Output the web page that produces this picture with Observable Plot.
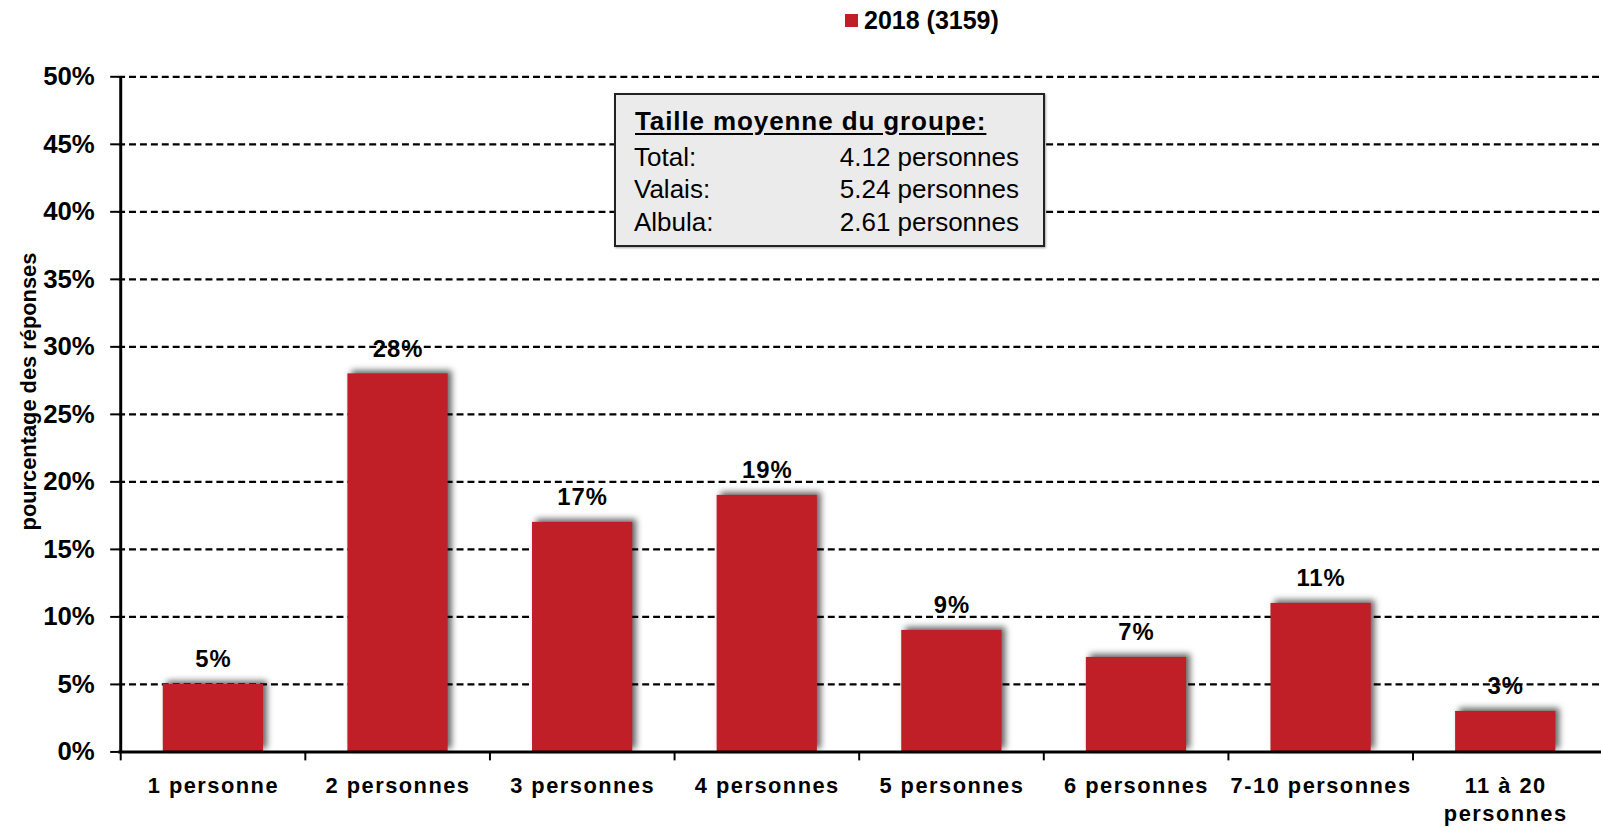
<!DOCTYPE html>
<html>
<head>
<meta charset="utf-8">
<script src="https://cdn.jsdelivr.net/npm/d3@7"></script>
<script src="https://cdn.jsdelivr.net/npm/@observablehq/plot@0.6"></script>
<style>
  html, body { margin: 0; padding: 0; background: #fff; overflow: hidden; }
  body { font-family: "Liberation Sans", Arial, sans-serif; color: #000; }
  #wrap { position: relative; width: 1601px; height: 827px; overflow: hidden; }
  #legend { position: relative; height: 50px; }
  #legend .sw { position: absolute; left: 845px; top: 14px; width: 13px; height: 13px; }
  #legend .lt { position: absolute; left: 864px; top: 8px; font-weight: bold; font-size: 25px; line-height: 25px; white-space: nowrap; }
  #box { position: absolute; left: 614px; top: 93px; width: 431px; height: 154px; box-sizing: border-box;
         background: #ebebeb; border: 2px solid #222; box-shadow: 1px 1px 2px rgba(0,0,0,0.35); }
  #box div { position: absolute; font-size: 26px; line-height: 26px; white-space: nowrap; }
  #box .title { left: 19px; top: 12.5px; font-weight: bold; letter-spacing: 0.9px; text-decoration: underline; text-decoration-thickness: 2px; text-underline-offset: 3px; }
  #box .lab { left: 18px; }
  #box .val { right: 24px; text-align: right; }
</style>
</head>
<body>
<div id="wrap">
  <div id="legend"><span class="sw"></span><span class="lt"></span></div>
  <div id="chart"></div>
  <div id="box"></div>
</div>
<script>
// ---- data ----
const categories = ["1 personne", "2 personnes", "3 personnes", "4 personnes", "5 personnes", "6 personnes", "7-10 personnes", "11 à 20 personnes"];
const tickLabels = ["1 personne", "2 personnes", "3 personnes", "4 personnes", "5 personnes", "6 personnes", "7-10 personnes", "11 à 20\npersonnes"];
const values = [5, 28, 17, 19, 9, 7, 11, 3];
const yTicks = [0, 5, 10, 15, 20, 25, 30, 35, 40, 45, 50];
const seriesName = "2018 (3159)";
const yLabel = "pourcentage des réponses";
const boxTitle = "Taille moyenne du groupe:";
const boxLabels = ["Total:", "Valais:", "Albula:"];
const boxValues = ["4.12 personnes", "5.24 personnes", "2.61 personnes"];

const barColor = "#c01f28";

// ---- legend ----
document.querySelector("#legend .sw").style.background = barColor;
document.querySelector("#legend .lt").textContent = seriesName;

// ---- info box ----
const box = document.getElementById("box");
const t = document.createElement("div");
t.className = "title"; t.textContent = boxTitle; box.appendChild(t);
const rowTops = [48.7, 81.2, 113.7];
boxLabels.forEach((l, i) => {
  const a = document.createElement("div");
  a.className = "lab"; a.style.top = rowTops[i] + "px"; a.textContent = l; box.appendChild(a);
  const b = document.createElement("div");
  b.className = "val"; b.style.top = rowTops[i] + "px"; b.textContent = boxValues[i]; box.appendChild(b);
});

// ---- chart ----
const table = categories.map((c, i) => ({cat: c, value: values[i]}));
const W = 1613, ML = 119, MR = 0;
const step = (W - ML - MR) / categories.length;

const plot = Plot.plot({
  width: W,
  height: 777,
  marginLeft: ML,
  marginRight: MR,
  marginTop: 26.5,
  marginBottom: 70.3,
  style: {fontFamily: '"Liberation Sans", Arial, sans-serif', background: "transparent", color: "#000", overflow: "visible"},
  x: {domain: categories, paddingInner: 0.455, paddingOuter: 0.2275, label: null},
  y: {domain: [0, 50], label: null},
  marks: [
    Plot.gridY(yTicks.filter(d => d > 0), {stroke: "#000", strokeOpacity: 1, strokeWidth: 2.3, strokeDasharray: "7,4"}),
    Plot.barY(table, {x: "cat", y: "value", fill: barColor}),
    Plot.text(table, {x: "cat", y: "value", text: d => d.value + "%", dy: -25, fontSize: 24, fontWeight: "bold", fill: "#000"}),
    Plot.axisY({ticks: yTicks, tickFormat: d => d + "%", tickSize: 8, tickPadding: 16, fontSize: 26, fontWeight: "bold", strokeWidth: 2, label: null}),
    Plot.axisX({tickSize: 0, tickPadding: 21, tickFormat: d => tickLabels[categories.indexOf(d)], fontSize: 22, fontWeight: "bold", lineHeight: 1.28, label: null}),
    Plot.axisX({tickSize: 9, tickFormat: () => "", dx: -step / 2, strokeWidth: 2, label: null}),
    Plot.ruleX([categories[0]], {x: d => d, dx: -step / 2, y1: 0, y2: 50, strokeWidth: 3}),
    Plot.ruleY([0], {strokeWidth: 3}),
    Plot.text([yLabel], {text: d => d, frameAnchor: "left", textAnchor: "middle", rotate: -90, dx: -90, dy: -23, fontSize: 22, fontWeight: "bold", fill: "#000"})
  ]
});
document.getElementById("chart").appendChild(plot);

// styling touches
plot.querySelectorAll('g[aria-label="bar"] rect').forEach(r => r.style.filter = "drop-shadow(4px -3px 3px rgba(0,0,0,0.6))");
plot.querySelectorAll('g[aria-label="x-axis tick label"] text').forEach(el => el.style.letterSpacing = "1.5px");
const textGroups = plot.querySelectorAll('g[aria-label="text"]');
if (textGroups[0]) textGroups[0].querySelectorAll("text").forEach(el => el.style.letterSpacing = "1px");
</script>
</body>
</html>
